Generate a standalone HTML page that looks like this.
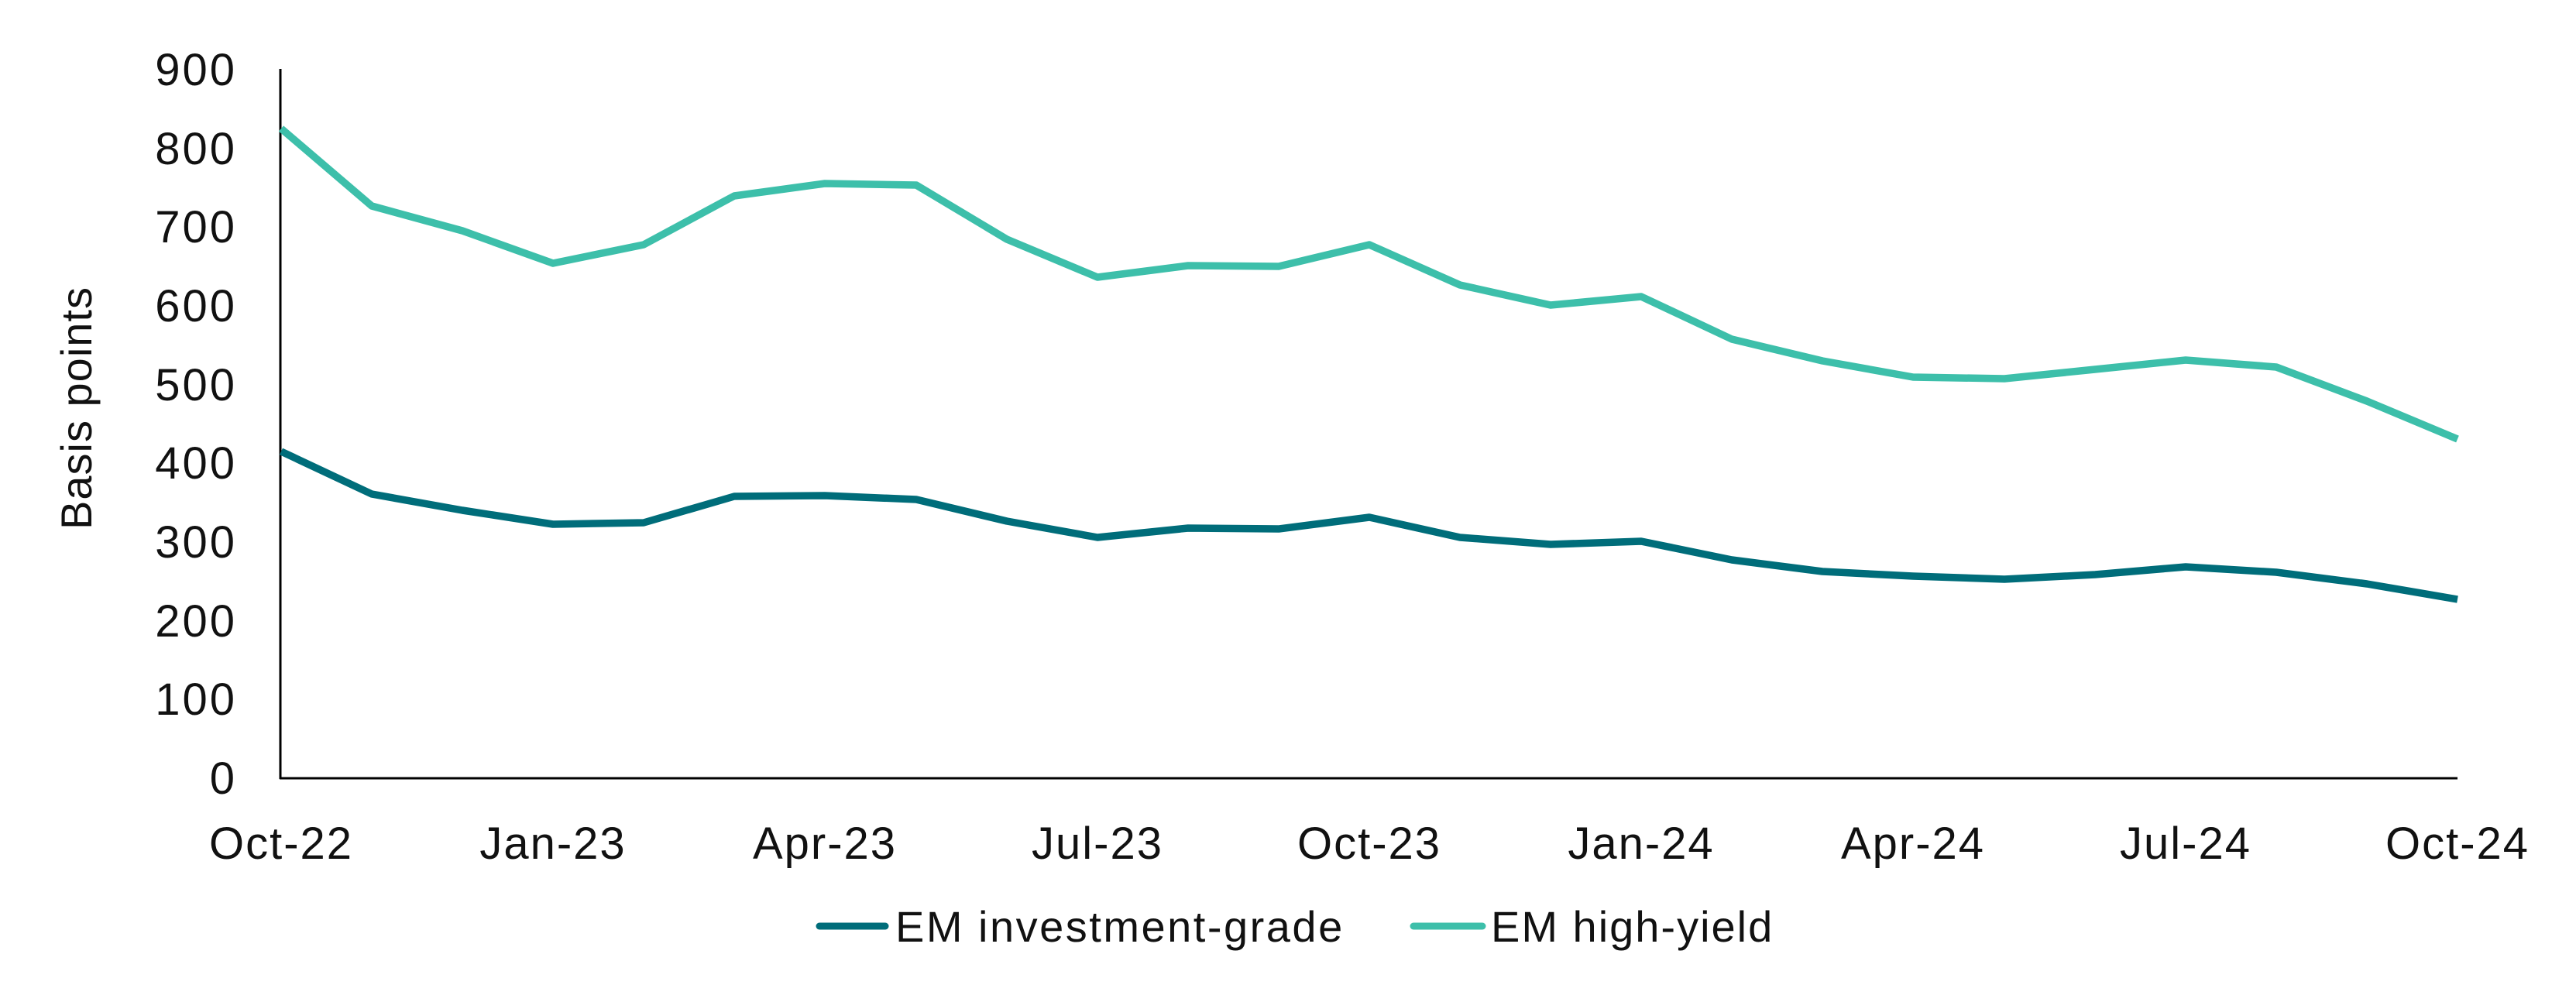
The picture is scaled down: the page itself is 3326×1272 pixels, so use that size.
<!DOCTYPE html>
<html><head><meta charset="utf-8"><style>html,body{margin:0;padding:0;background:#fff}svg{display:block}text{font-family:"Liberation Sans",sans-serif;fill:#111}</style></head>
<body>
<svg width="3326" height="1272" viewBox="0 0 3326 1272" xmlns="http://www.w3.org/2000/svg">
<g font-size="58" text-anchor="end" letter-spacing="3">
<text x="306" y="110">900</text>
<text x="306" y="212">800</text>
<text x="306" y="313">700</text>
<text x="306" y="415">600</text>
<text x="306" y="517">500</text>
<text x="306" y="618">400</text>
<text x="306" y="720">300</text>
<text x="306" y="822">200</text>
<text x="306" y="923">100</text>
<text x="306" y="1025">0</text>
</g>
<text transform="translate(118,527) rotate(-90)" font-size="56" text-anchor="middle" letter-spacing="1">Basis points</text>
<line x1="362" y1="89" x2="362" y2="1006" stroke="#000" stroke-width="3"/>
<line x1="361" y1="1005" x2="3173" y2="1005" stroke="#000" stroke-width="3"/>
<g font-size="58" text-anchor="middle" letter-spacing="2">
<text x="363" y="1109">Oct-22</text>
<text x="714" y="1109">Jan-23</text>
<text x="1065" y="1109">Apr-23</text>
<text x="1417" y="1109">Jul-23</text>
<text x="1768" y="1109">Oct-23</text>
<text x="2119" y="1109">Jan-24</text>
<text x="2470" y="1109">Apr-24</text>
<text x="2822" y="1109">Jul-24</text>
<text x="3173" y="1109">Oct-24</text>
</g>
<polyline fill="none" stroke="#3dbfaa" stroke-width="9.5" stroke-linejoin="round" points="363,166 480,266 597,298 714,340 831,316 948,253 1065,237 1183,239 1300,309 1417,358 1534,343 1651,344 1768,316 1885,368 2002,394 2119,383 2236,438 2353,466 2470,487 2588,489 2705,477 2822,465 2939,474 3056,518 3173,567"/>
<polyline fill="none" stroke="#006d7a" stroke-width="9.5" stroke-linejoin="round" points="363,583 480,638 597,659 714,677 831,675 948,641 1065,640 1183,645 1300,673 1417,694 1534,682 1651,683 1768,668 1885,694 2002,703 2119,699 2236,723 2353,738 2470,744 2588,748 2705,742 2822,732 2939,739 3056,754 3173,774"/>
<line x1="1058" y1="1196" x2="1143" y2="1196" stroke="#006d7a" stroke-width="9" stroke-linecap="round"/>
<text x="1156" y="1216" font-size="56" letter-spacing="2.5">EM investment-grade</text>
<line x1="1825" y1="1196" x2="1914" y2="1196" stroke="#3dbfaa" stroke-width="9" stroke-linecap="round"/>
<text x="1925" y="1216" font-size="56" letter-spacing="2">EM high-yield</text>
</svg>
</body></html>
